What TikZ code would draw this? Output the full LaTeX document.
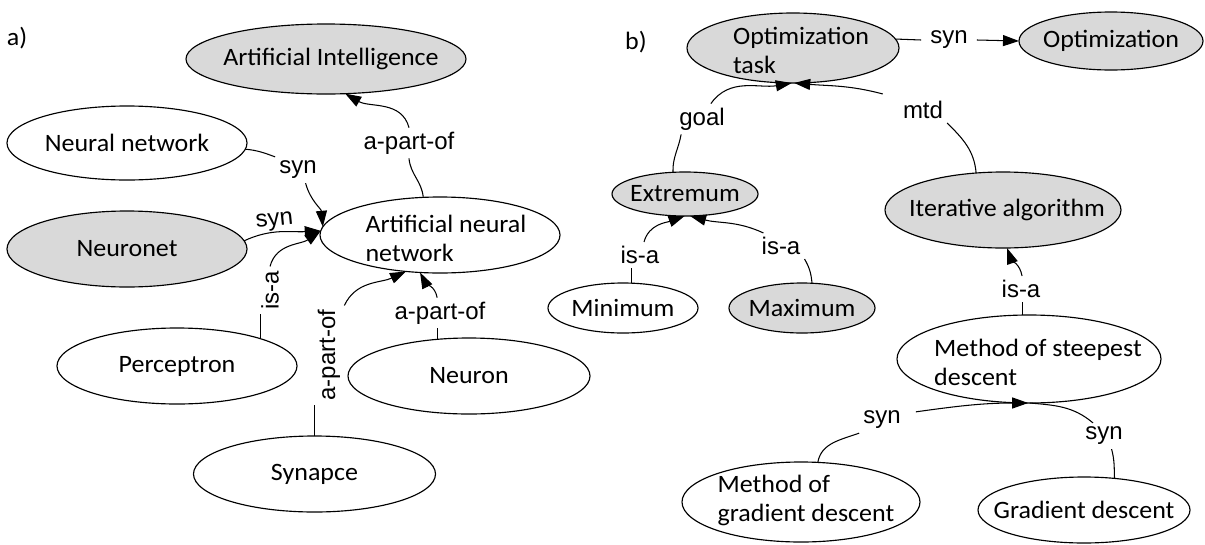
\documentclass[tikz,border=0pt]{standalone}
\usepackage{fontspec}
\setmainfont{Carlito}[FakeStretch=1.04]
\newfontfamily\lblfont{Liberation Sans}
\usetikzlibrary{shapes.geometric,arrows.meta}
\definecolor{shade}{HTML}{D9D9D9}

\begin{document}
\begin{tikzpicture}[x=1pt,y=1pt,
  ell/.style={ellipse, draw, line width=1.15pt, inner sep=0pt, outer sep=0pt},
  dark/.style={ell, fill=shade},
  txt/.style={font=\fontsize{25}{29}\selectfont, align=left, inner sep=0pt},
  lbl/.style={font=\lblfont\fontsize{24}{28}\selectfont, inner sep=4pt},
  edge/.style={line width=1.05pt},
  arr/.style={edge, -{Triangle[length=16pt,width=11pt]}},
]
\useasboundingbox (0,0) rectangle (1205,-544);

% ---------- part a) ----------
\node[txt] (tag-a) at (17,-38) {a)};

\node[dark, minimum width=280pt, minimum height=70pt] (ai) at (326,-59) {};
\node[txt] (ai-t) at ([xshift=5pt]ai) {Artificial Intelligence};

\node[ell, minimum width=240pt, minimum height=74pt] (nn) at (127,-143) {};
\node[txt] (nn-t) at (nn) {Neural network};

\node[dark, minimum width=240pt, minimum height=76pt] (neuronet) at (127,-249) {};
\node[txt] (neuronet-t) at (neuronet) {Neuronet};

\node[ell, minimum width=240pt, minimum height=76pt] (ann) at (440,-235) {};
\node[txt] (ann-t) at ([xshift=6pt,yshift=-3pt]ann) {Artificial neural\\network};

\node[ell, minimum width=240pt, minimum height=76pt] (perc) at (177,-366) {};
\node[txt] (perc-t) at (perc) {Perceptron};

\node[ell, minimum width=242pt, minimum height=76pt] (neuron) at (469,-376) {};
\node[txt] (neuron-t) at (neuron) {Neuron};

\node[ell, minimum width=242pt, minimum height=76pt] (synapce) at (314.5,-474) {};
\node[txt] (synapce-t) at (synapce) {Synapce};

% relations of part a)
\node[lbl] (l1) at (409,-143) {a-part-of};
\draw[edge] (ann.114) to[out=95,in=-85] (l1.south);
\draw[arr] (l1.north) to[out=105,in=-30] (ai.-61);

\node[lbl] (l2) at (298,-170) {syn};
\draw[edge] (nn.-3) to[out=-5,in=160] (l2.north west);
\draw[arr] (l2.-60) to[out=-75,in=95] (ann.176);

\draw[arr] (neuronet.4) to[out=25,in=183]
  node[lbl, pos=0.42, sloped, above, inner sep=1pt] (l3) {syn} (ann.178);

\node[lbl, rotate=90] (l4) at (270,-290) {is-a};
\draw[edge] (perc.18) -- (perc.18 |- l4.west);
\draw[arr] (l4.east) to[out=75,in=215] (ann.178);

\node[lbl, rotate=90] (l5) at (329,-355) {a-part-of};
\draw[edge] (synapce.90) -- (synapce.90 |- l5.west);
\draw[arr] (l5.south east) to[out=65,in=205] (ann.227);

\node[lbl] (l6) at (440,-313) {a-part-of};
\draw[edge] (neuron.131) -- (neuron.131 |- l6.south);
\draw[arr] (neuron.131 |- l6.north) to[out=100,in=-63] (ann.242);

% ---------- part b) ----------
\node[txt] (tag-b) at (636,-42) {b)};

\node[dark, minimum width=212pt, minimum height=70pt] (opttask) at (793,-48) {};
\node[txt] (opttask-t) at ([xshift=8pt,yshift=-2pt]opttask) {Optimization\\task};

\node[dark, minimum width=184pt, minimum height=58pt] (optim) at (1111,-41) {};
\node[txt] (optim-t) at (optim) {Optimization};

\node[dark, minimum width=146pt, minimum height=44pt] (extremum) at (685,-194) {};
\node[txt] (extremum-t) at (extremum) {Extremum};

\node[dark, minimum width=236pt, minimum height=76pt] (iter) at (1003,-210) {};
\node[txt] (iter-t) at ([xshift=4pt]iter) {Iterative algorithm};

\node[ell, minimum width=150pt, minimum height=50pt] (minimum) at (623,-308) {};
\node[txt] (minimum-t) at (minimum) {Minimum};

\node[dark, minimum width=146pt, minimum height=50pt] (maximum) at (802,-308) {};
\node[txt] (maximum-t) at (maximum) {Maximum};

\node[ell, minimum width=264pt, minimum height=88pt] (msd) at (1029,-359) {};
\node[txt] (msd-t) at ([xshift=9pt,yshift=-3pt]msd) {Method of steepest\\descent};

\node[ell, minimum width=238pt, minimum height=80pt] (mgd) at (801,-502) {};
\node[txt] (mgd-t) at ([xshift=5pt,yshift=2pt]mgd) {Method of\\gradient descent};

\node[ell, minimum width=212pt, minimum height=66pt] (gd) at (1084,-510) {};
\node[txt] (gd-t) at (gd) {Gradient descent};

% relations of part b)
\node[lbl, inner sep=9pt] (l7) at (949,-40) {syn};
\draw[edge] (opttask.5) -- (l7.west);
\draw[arr] (l7.east) -- (optim.west);

\node[lbl] (l8) at (702,-119) {goal};
\draw[edge] (extremum.119) to[out=92,in=-100] ([xshift=6pt]l8.south west);
\draw[arr] (l8.60) to[out=55,in=190] (opttask.-92);

\node[lbl] (l9) at (923,-110) {mtd};
\draw[edge] (iter.126) to[out=95,in=-45] (l9.south east);
\draw[arr] ([xshift=-16pt,yshift=3pt]l9.north west) to[out=165,in=-5] (opttask.-88);

\node[lbl] (l10) at (640,-255) {is-a};
\draw[edge] (minimum.72) -- (minimum.72 |- l10.south);
\draw[arr] ([xshift=4pt]l10.north) to[out=75,in=200] (extremum.-91);

\node[lbl] (l11) at (781,-246) {is-a};
\draw[edge] (maximum.68) to[out=95,in=-60] (l11.south east);
\draw[arr] ([xshift=6pt]l11.north west) to[out=155,in=-15] (extremum.-77);

\node[lbl] (l12) at (1021,-289) {is-a};
\draw[edge] (msd.99) -- (msd.99 |- l12.south);
\draw[arr] (msd.99 |- l12.north) to[out=100,in=-70] (iter.-84);

\node[lbl] (l13) at (882,-420) {syn};
\draw[edge] (mgd.67) to[out=80,in=200] (l13.south west);
\draw[arr] ([xshift=11pt,yshift=-5pt]l13.north east) to[out=8,in=180] (msd.-91);

\node[lbl] (l14) at (1104,-436) {syn};
\draw[edge] (gd.46) to[out=92,in=-75] (l14.-60);
\draw[edge] (l14.130) to[out=140,in=-5] (msd.-89);

\end{tikzpicture}
\end{document}
